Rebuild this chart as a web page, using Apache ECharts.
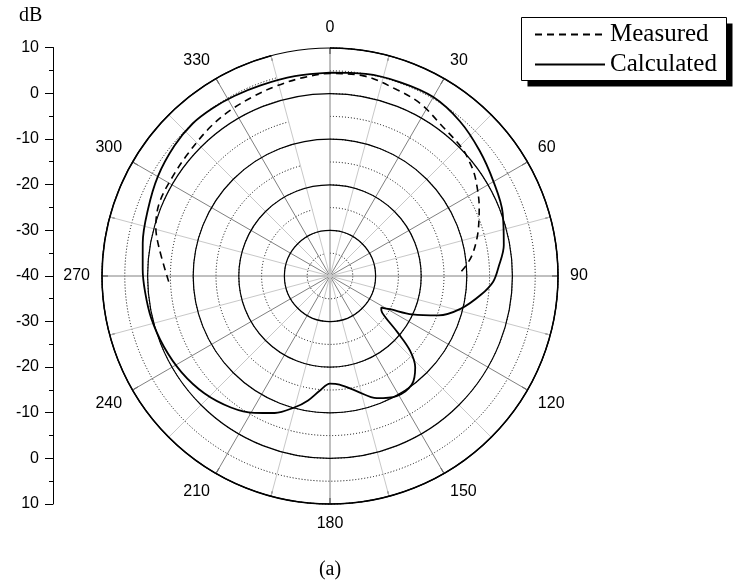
<!DOCTYPE html>
<html>
<head>
<meta charset="utf-8">
<script src="https://cdn.jsdelivr.net/npm/echarts@6/dist/echarts.min.js"></script>
<style>
  html, body { margin: 0; padding: 0; background: #fff; }
  #chart { width: 734px; height: 586px; }
</style>
</head>
<body>
<div id="chart"></div>
<script>
// Radiation pattern in dB versus azimuth (degrees, 0 at top, clockwise)
const calcAngle = [0, 10, 20, 30, 40, 50, 60, 70, 80, 87, 92, 97, 104, 110, 115, 119, 121.6, 124, 126.5,
  130, 133, 137, 143, 151, 159, 167, 175, 180, 185, 190, 195, 202, 209, 217, 227,
  237, 247, 257, 265, 272, 280, 290, 300, 310, 318, 325, 332, 340, 350, 360];
const calcDb = [4.6, 5.0, 5.2, 5.3, 4.3, 2.8, 1.4, 0.3, -1.3, -3.0, -4.2, -6.6, -10.4, -14.7, -20.1, -25.0, -26.8, -26.4, -25.0,
  -20.5, -16.0, -12.6, -10.2, -9.9, -11.3, -14.1, -16.1, -16.4, -14.8, -12.3, -10.2, -7.6, -5.7, -3.9, -2.3,
  -1.2, -0.4, 0.3, 0.7, 1.1, 1.7, 2.5, 3.6, 4.5, 5.0, 4.9, 4.7, 4.5, 4.5, 4.6];

const measAngle = [268, 279.4, 285.8, 293, 301.4, 310.5, 321.1, 328.9, 336.8, 344.2, 352.3, 0, 9.5, 19.8, 27.6,
  37.3, 46, 50.3, 54.6, 60, 65, 69, 74.8, 81, 85, 87.6, 89.5];
const measDb = [-4.6, -2.0, -0.3, 0.7, 0.8, 1.1, 1.9, 2.4, 2.8, 3.3, 3.9, 4.4, 4.5, 3.4, 2.7,
  1.0, 0.3, -0.4, -1.2, -2.6, -3.9, -5.0, -6.5, -8.3, -9.8, -11.0, -12.0];

// Direction grid (every 15 degrees) and the labeled directions
const angleStep = 15;
const angleLabels = [0, 30, 60, 90, 120, 150, 180, 210, 240, 270, 300, 330];
// dB scale printed beside the plot, top to bottom
const dbScaleLabels = [10, 0, -10, -20, -30, -40, -30, -20, -10, 0, 10];

const SANS = 'Liberation Sans, Arial, sans-serif';
const SERIF = 'Liberation Serif, Times New Roman, serif';
const CENTER = [330, 276];
const R = 228;

const angleCategories = [];
for (let a = 0; a < 360; a += angleStep) {
  angleCategories.push({
    value: angleLabels.indexOf(a) >= 0 ? String(a) : '',
    textStyle: { align: 'center', verticalAlign: 'middle' }
  });
}

const pairs = (rs, as) => as.map((a, i) => [rs[i], a]);

// Legend frame with its offset drop shadow
const BOX = { x: 521.5, y: 17.5, w: 205, h: 63, shadow: 6 };

const chart = echarts.init(document.getElementById('chart'));

chart.setOption({
  animation: false,
  backgroundColor: '#fff',
  graphic: [
    { type: 'text', left: 19, top: 6, style: { text: 'dB', font: '20px ' + SERIF, fill: '#000' } },
    { type: 'text', x: 330, y: 570, style: { text: '(a)', font: '20px ' + SERIF, fill: '#000', align: 'center', verticalAlign: 'middle' } },
    { type: 'rect', z: 1, shape: { x: BOX.x + BOX.shadow, y: BOX.y + BOX.shadow, width: BOX.w, height: BOX.h }, style: { fill: '#000' } },
    { type: 'rect', z: 2, shape: { x: BOX.x, y: BOX.y, width: BOX.w, height: BOX.h }, style: { fill: '#fff', stroke: '#000', lineWidth: 1 } }
  ],
  legend: {
    data: ['Measured', 'Calculated'],
    orient: 'vertical',
    left: 521,
    top: 17,
    z: 10,
    itemWidth: 70,
    itemHeight: 14,
    itemGap: 5,
    padding: [5, 10, 4, 13],
    itemStyle: { opacity: 0 },
    textStyle: { fontFamily: SERIF, fontSize: 25, color: '#000' }
  },
  polar: [
    { center: CENTER, radius: R },
    { center: CENTER, radius: R }
  ],
  angleAxis: [
    {
      polarIndex: 0, type: 'category', data: angleCategories, boundaryGap: false,
      startAngle: 90, clockwise: true,
      axisLine: { lineStyle: { color: '#000', width: 1.5 } },
      axisTick: { show: true, inside: true, length: 6, interval: 0, lineStyle: { color: '#000', width: 1 } },
      axisLabel: { interval: 0, margin: 12, fontFamily: SANS, fontSize: 16, color: '#000' },
      splitLine: { show: true, interval: 0, lineStyle: { color: ['#808080', '#c8c8c8'], width: 1 } }
    },
    {
      polarIndex: 1, type: 'value', min: 0, max: 360, startAngle: 90, clockwise: true, show: false
    }
  ],
  radiusAxis: [
    {
      polarIndex: 0, type: 'value', min: -40, max: 10, interval: 5,
      axisLine: { show: false }, axisTick: { show: false }, axisLabel: { show: false },
      splitLine: { show: true, lineStyle: { color: '#000', type: [1, 2], width: 1 } }
    },
    {
      polarIndex: 1, type: 'value', min: -40, max: 10, interval: 10, z: 1,
      axisLine: { show: false }, axisTick: { show: false }, axisLabel: { show: false },
      splitLine: { show: true, lineStyle: { color: '#000', width: 1.2 } }
    }
  ],
  grid: { left: 53, top: 47.5, width: 1, height: 456.5 },
  xAxis: { type: 'value', show: false },
  yAxis: {
    type: 'value', min: 0, max: 10, interval: 1, inverse: true,
    axisLine: { show: true, lineStyle: { color: '#000', width: 1 } },
    axisTick: { show: true, length: 8, lineStyle: { color: '#000' } },
    minorTick: { show: true, splitNumber: 2, length: 4, lineStyle: { color: '#000' } },
    splitLine: { show: false },
    axisLabel: { margin: 14, fontFamily: SANS, fontSize: 16, color: '#000', formatter: v => String(dbScaleLabels[v]) }
  },
  series: [
    {
      name: 'Measured', type: 'line', coordinateSystem: 'polar', polarIndex: 1,
      data: pairs(measDb, measAngle), smooth: 0.35, symbol: 'none', showSymbol: false, z: 5,
      itemStyle: { color: '#000' },
      lineStyle: { color: '#000', width: 1.6, type: [7, 5] }
    },
    {
      name: 'Calculated', type: 'line', coordinateSystem: 'polar', polarIndex: 1,
      data: pairs(calcDb, calcAngle), smooth: 0.35, symbol: 'none', showSymbol: false, z: 6,
      itemStyle: { color: '#000' },
      lineStyle: { color: '#000', width: 1.8 }
    }
  ]
});
</script>
</body>
</html>
